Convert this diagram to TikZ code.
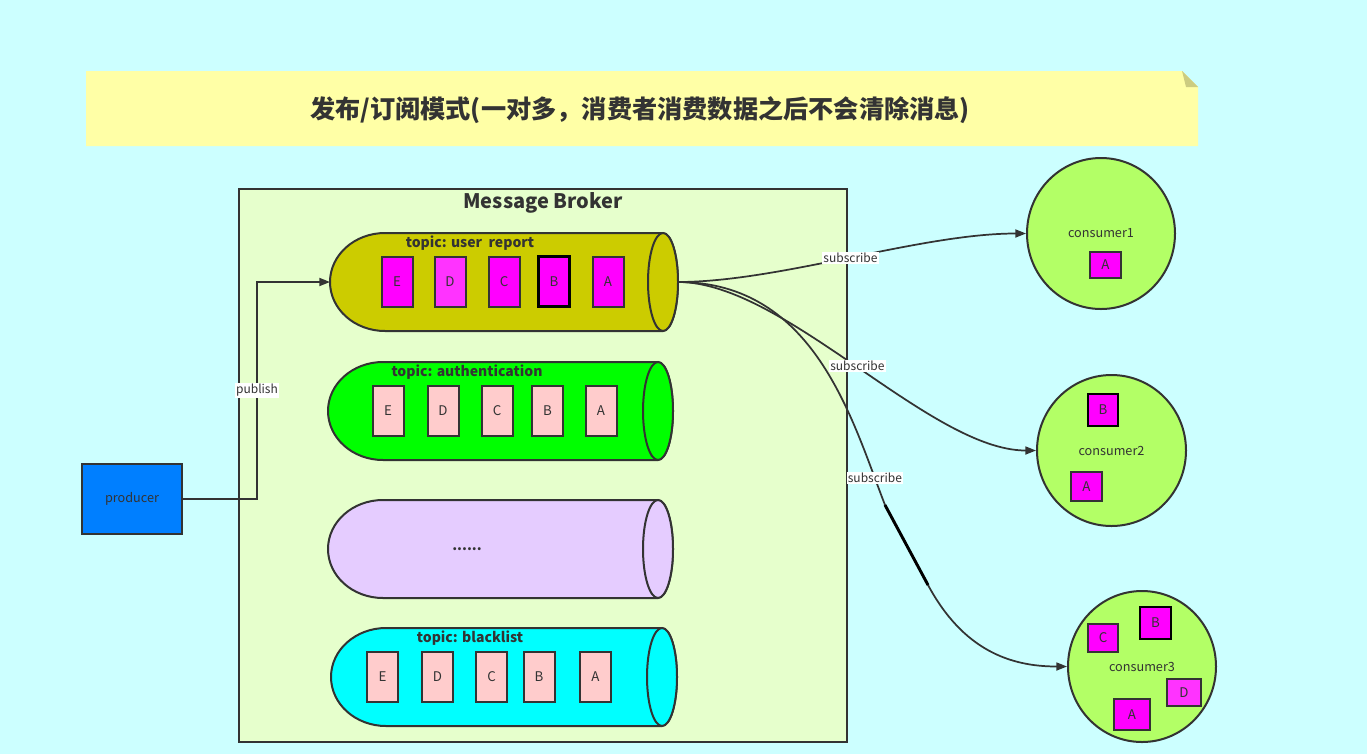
\documentclass[tikz,border=0pt]{standalone}
\usepackage{fontspec}
\setmainfont{Noto Sans CJK SC}
\usetikzlibrary{arrows.meta,shapes.geometric}
\definecolor{bgc}{HTML}{CCFFFF}
\definecolor{notec}{HTML}{FFFFA6}
\definecolor{foldc}{HTML}{CCCC80}
\definecolor{brokerc}{HTML}{E6FFCC}
\definecolor{linec}{HTML}{333333}
\definecolor{olivec}{HTML}{CCCC00}
\definecolor{greenc}{HTML}{00FF00}
\definecolor{purplec}{HTML}{E5CCFF}
\definecolor{cyanc}{HTML}{00FFFF}
\definecolor{magc}{HTML}{FF00FF}
\definecolor{maglc}{HTML}{FF33FF}
\definecolor{pinkc}{HTML}{FFCCCC}
\definecolor{prodc}{HTML}{007FFF}
\definecolor{consc}{HTML}{B3FF66}
\newcommand\topiccyl[6]{%
  \filldraw[fill=#6, draw=linec, line width=1.5pt]
    ({#2+55},#4) -- (#3,#4)
    arc[start angle=-90, end angle=90, x radius=15, y radius={(#5-#4)/2}]
    -- ({#2+55},#5)
    arc[start angle=90, end angle=270, x radius=55, y radius={(#5-#4)/2}] -- cycle;
  \filldraw[fill=#6, draw=linec, line width=1.5pt]
    (#3,{(#4+#5)/2}) ellipse[x radius=15, y radius={(#5-#4)/2}];
  \coordinate (#1-w) at (#2,{(#4+#5)/2});
  \coordinate (#1-e) at ({#3+15},{(#4+#5)/2});
}
\begin{document}
\begin{tikzpicture}[x=0.75pt,y=-0.75pt,
  msg/.style={draw=linec, line width=1.5pt, fill=magc, inner sep=0pt,
    minimum width=23.25pt, minimum height=37.5pt, text=linec, font=\fontsize{10}{11}\selectfont},
  cmsg/.style={draw=linec, line width=1.5pt, fill=magc, inner sep=0pt, text=linec,
    font=\fontsize{10}{11}\selectfont},
  topiclbl/.style={text=linec, font=\bfseries\fontsize{10.5}{12}\selectfont, inner sep=0pt},
  cons/.style={ellipse, draw=linec, line width=1.5pt, fill=consc, inner sep=0pt,
    text=linec, font=\fontsize{9.5}{11}\selectfont},
  conn/.style={draw=linec, line width=1.3pt, -{Triangle[length=8pt,width=6pt]}},
  lbl/.style={fill=white, inner sep=1pt, text=linec, font=\fontsize{9}{10}\selectfont}
]
\fill[bgc] (0,0) rectangle (1367,754);
\useasboundingbox (0,0) rectangle (1367,754);

% title note
\fill[notec] (86,71) -- (1182,71) -- (1198,87) -- (1198,146) -- (86,146) -- cycle;
\fill[foldc] (1182,71) -- (1198,87) -- (1186,87) -- cycle;
\node[text=linec, font=\bfseries\fontsize{18.9}{21}\selectfont] (title) at (640,110)
  {发布/订阅模式(一对多，消费者消费数据之后不会清除消息)};

% broker
\node[draw=linec, line width=1.5pt, fill=brokerc, minimum width=456pt, minimum height=414.75pt,
  inner sep=0pt] (broker) at (543,465.5) {};
\node[text=linec, font=\bfseries\fontsize{15}{17}\selectfont] (brokerlbl) at (543,203) {Message Broker};

% topics
\topiccyl{t1}{330}{663}{233}{331}{olivec}
\topiccyl{t2}{328}{658}{362}{460}{greenc}
\topiccyl{t3}{328}{658}{500}{598}{purplec}
\topiccyl{t4}{331}{662}{628}{726}{cyanc}

\node[topiclbl] (t1lbl) at (470,243) {topic: user\ \ report};
\node[topiclbl] (t2lbl) at (467,372) {topic: authentication};
\node[topiclbl] (t3lbl) at (467,549) {......};
\node[topiclbl] (t4lbl) at (470,638) {topic: blacklist};

\node[msg] (t1E) at (397,281.5) {E};
\node[msg, fill=maglc] (t1D) at (450,281.5) {D};
\node[msg] (t1C) at (504,281.5) {C};
\node[msg, draw=black, line width=1.7pt] (t1B) at (554,281.5) {B};
\node[msg] (t1A) at (608,281.5) {A};

\node[msg, fill=pinkc] (t2E) at (388,411) {E};
\node[msg, fill=pinkc] (t2D) at (443,411) {D};
\node[msg, fill=pinkc] (t2C) at (497,411) {C};
\node[msg, fill=pinkc] (t2B) at (547.5,411) {B};
\node[msg, fill=pinkc] (t2A) at (601,411) {A};

\node[msg, fill=pinkc] (t4E) at (382.5,677) {E};
\node[msg, fill=pinkc] (t4D) at (437.5,677) {D};
\node[msg, fill=pinkc] (t4C) at (491.5,677) {C};
\node[msg, fill=pinkc] (t4B) at (539,677) {B};
\node[msg, fill=pinkc] (t4A) at (595.5,677) {A};

% producer
\node[draw=linec, line width=1.5pt, fill=prodc, minimum width=75pt, minimum height=52.5pt,
  inner sep=0pt, text=linec, font=\fontsize{9.5}{11}\selectfont] (prod) at (132,499) {producer};

% consumers
\node[cons, minimum width=111pt, minimum height=113.25pt] (c1) at (1101,233.5) {consumer1};
\node[cons, minimum width=111.75pt, minimum height=113.25pt] (c2) at (1111.5,450.5) {consumer2};
\node[cons, minimum width=111pt, minimum height=113.25pt] (c3) at (1142,666.5) {consumer3};

\node[cmsg, minimum width=23.25pt, minimum height=20pt] (c1A) at (1105.5,265) {A};
\node[cmsg, draw=black, line width=1.7pt, minimum width=22.5pt, minimum height=24pt] (c2B) at (1103,410) {B};
\node[cmsg, minimum width=23.25pt, minimum height=21.75pt] (c2A) at (1086.5,486.5) {A};
\node[cmsg, minimum width=22.5pt, minimum height=21pt] (c3C) at (1103,638) {C};
\node[cmsg, draw=black, line width=1.7pt, minimum width=23.25pt, minimum height=24pt] (c3B) at (1155.5,623) {B};
\node[cmsg, fill=maglc, minimum width=25.5pt, minimum height=20.25pt] (c3D) at (1184,692.5) {D};
\node[cmsg, minimum width=27pt, minimum height=23.25pt] (c3A) at (1132,714.5) {A};

% publish
\coordinate (pbend) at (257,499);
\draw[conn] (prod.east) -- (pbend) |- node[pos=0.25, lbl] {publish} (t1-w);

% subscribe
\draw[conn] (t1-e) .. controls (780,282) and (920,233.5) .. node[pos=0.5, lbl] {subscribe} (c1.west);
\draw[conn] (t1-e) .. controls (785,282) and (930,450.5) .. node[pos=0.5, lbl] {subscribe} (c2.west);
\coordinate (s3a) at (885,505);
\coordinate (s3b) at (928,585);
\draw[conn] (t1-e) .. controls (815,282) and (852,420) .. node[pos=0.9, lbl] {subscribe} (s3a)
  -- (s3b) .. controls (963,650) and (1010,666.5) .. (c3.west);
\draw[black, line width=2.2pt] (s3a) -- (s3b);
\end{tikzpicture}
\end{document}
